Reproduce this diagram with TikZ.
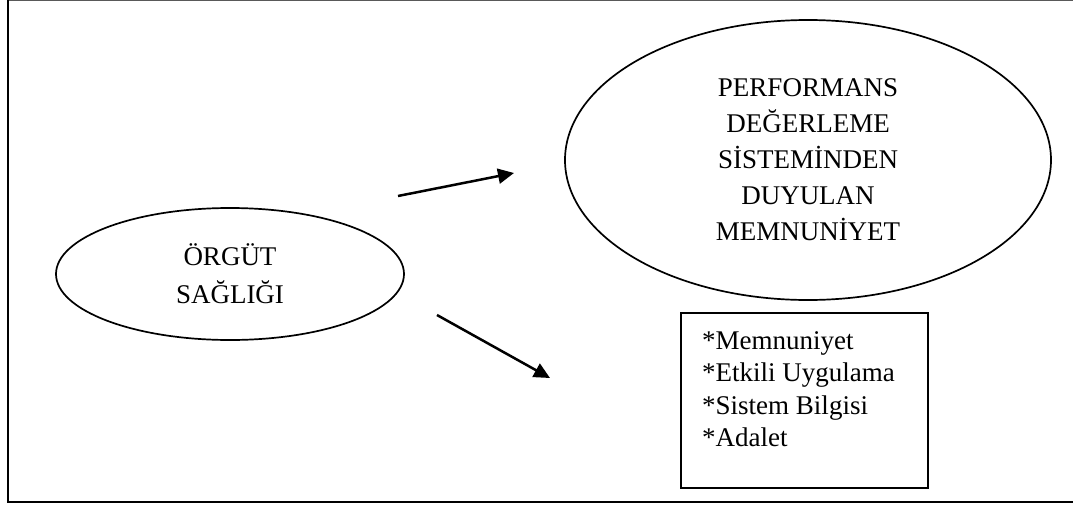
\documentclass[tikz,border=0pt]{standalone}
\usepackage{fontspec}
\setmainfont{Liberation Serif}
\usetikzlibrary{shapes.geometric,arrows.meta}
\begin{document}
\begin{tikzpicture}[x=1pt,y=-1pt,
  oval/.style={draw,ellipse,line width=1.7pt,inner sep=0pt,align=center},
  conn/.style={line width=2.5pt,-{Triangle[length=16pt,width=15pt]}},
  bigtxt/.style={font=\fontsize{27}{36}\selectfont},
  boxtxt/.style={font=\fontsize{27}{32.5}\selectfont,align=left,inner sep=0pt},
]
\useasboundingbox (0,0) rectangle (1073,506);
% outer frame
\draw[line width=1pt, black!65] (8,0.5) -- (1073,0.5);
\draw[line width=2.8pt] (8,0) -- (8,502) -- (1073,502);
% nodes
\node[oval,font=\fontsize{27}{38}\selectfont, minimum width=348pt, minimum height=132pt] (org) at (230,274) {ÖRGÜT\\SAĞLIĞI};
\node[oval,bigtxt, minimum width=486pt, minimum height=280pt] (perf) at (808,160)
  {PERFORMANS\\DEĞERLEME\\SİSTEMİNDEN\\DUYULAN\\MEMNUNİYET};
\node[draw,line width=1.7pt,inner sep=0pt,minimum width=247pt,minimum height=175pt] (box) at (804.5,400.5) {};
\node[boxtxt,anchor=north west] (items) at (702,331) {*Memnuniyet\\*Etkili Uygulama\\*Sistem Bilgisi\\*Adalet};
% arrow end points
\coordinate (a1s) at (398,196);
\coordinate (a1e) at (514,173);
\coordinate (a2s) at (437,315);
\coordinate (a2e) at (550,378);
\draw[conn] (a1s) -- (a1e);
\draw[conn] (a2s) -- (a2e);
\end{tikzpicture}
\end{document}
